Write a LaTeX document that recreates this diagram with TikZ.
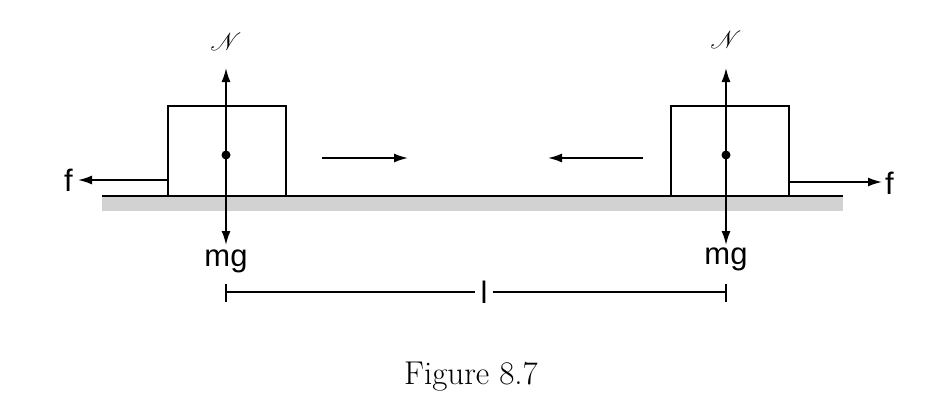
\documentclass[tikz,border=0pt]{standalone}
\usepackage{fontspec}
\usepackage{mathrsfs}
\newfontfamily\lblfont{Liberation Sans}
\usetikzlibrary{arrows.meta}
\begin{document}
\begin{tikzpicture}[x=1pt,y=-1pt,
  force/.style={line width=1.6pt,-{Latex[length=14pt,width=9pt]}},
  blk/.style={draw,line width=1.4pt},
  lbl/.style={font=\lblfont\fontsize{31}{31}\selectfont,inner sep=0pt}]
\useasboundingbox (0,0) rectangle (943,418);
\fill[gray!35] (102,196) rectangle (843,211);
\draw[line width=1.4pt] (102,196) -- (843,196);
% left block
\draw[blk] (168,196) -- (168,106) -- (286,106) -- (286,196);
\coordinate (c1) at (226,155);
\fill (c1) circle (4.5pt);
\coordinate (n1) at (226,68); \coordinate (g1) at (226,245);
\draw[force] (c1) -- (n1);
\draw[force] (c1) -- (g1);
\node[lbl] (N1) at (226,42) {$\mathscr{N}$};
\node[lbl] (mg1) at (226,261) {mg};
\coordinate (fl0) at (168,180); \coordinate (fl1) at (78,180);
\draw[force] (fl0) -- (fl1);
\node[lbl,anchor=east] (f1) at (73,180) {f};
% right block
\draw[blk] (671,196) -- (671,106) -- (789,106) -- (789,196);
\coordinate (c2) at (726,155);
\fill (c2) circle (4.5pt);
\coordinate (n2) at (726,68); \coordinate (g2) at (726,245);
\draw[force] (c2) -- (n2);
\draw[force] (c2) -- (g2);
\node[lbl] (N2) at (726,40) {$\mathscr{N}$};
\node[lbl] (mg2) at (726,259) {mg};
\coordinate (fr0) at (789,182); \coordinate (fr1) at (882,182);
\draw[force] (fr0) -- (fr1);
\node[lbl,anchor=west] (f2) at (885,183) {f};
% motion arrows
\coordinate (m1a) at (322,158); \coordinate (m1b) at (408,158);
\coordinate (m2a) at (643,158); \coordinate (m2b) at (548,158);
\draw[force] (m1a) -- (m1b);
\draw[force] (m2a) -- (m2b);
% dimension
\node[lbl,inner xsep=5pt] (l) at (484,292) {l};
\draw[line width=1.2pt] (226,284) -- (226,302);
\draw[line width=1.2pt] (726,284) -- (726,302);
\draw[line width=1.2pt] (226,292) -- (l.west);
\draw[line width=1.2pt] (l.east) -- (726,292);
\node[font=\fontsize{33}{33}\selectfont] (cap) at (471,377) {Figure 8.7};
\end{tikzpicture}
\end{document}
